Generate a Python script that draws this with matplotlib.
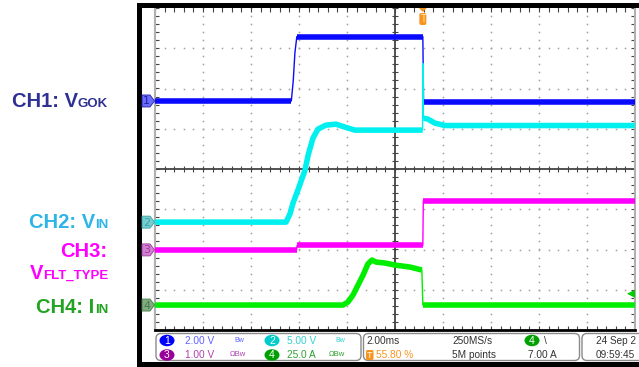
import numpy as np
import matplotlib
matplotlib.use("Agg")
import matplotlib.pyplot as plt
from matplotlib.patches import Rectangle, FancyBboxPatch, Ellipse, Polygon
from matplotlib.transforms import Affine2D

# --- Scope settings ---
T_DIV = 2.0            # ms/div
TRIG_POS = 0.558       # trigger position on screen
T_LEFT = -10 * TRIG_POS * T_DIV
T_RIGHT = T_LEFT + 10 * T_DIV
CH_SCALE = [2.0, 5.0, 1.0, 25.0]        # V/div, V/div, V/div, A/div
CH_OFFSET = [1.69, -1.32, -2.01, -3.38]  # ground markers (div)
TRIG_LEVEL = 7.0                         # A on CH4

# --- Traces (time in ms, values in V or A) ---
t1 = [-11.16, -5.48, -5.40, -5.33, -5.25, 0.0, 0.03, 8.84]
v1 = [0.0, 0.0, 1.0, 2.4, 3.2, 3.2, -0.05, -0.05]

t2 = [-11.16, -5.70, -5.54, -5.41, -5.16, -4.91, -4.78, -4.58, -4.37, -4.04,
      -3.62, -3.24, -2.83, -0.01, 0.0, 0.02, 0.04, 0.21, 0.50, 0.92, 8.84]
v2 = [0.0, 0.0, 0.99, 2.36, 4.35, 6.46, 8.32, 10.43, 11.55, 12.05,
      12.17, 11.80, 11.43, 11.43, 19.7, 12.9, 12.9, 12.8, 12.3, 12.0, 12.0]

t3 = [-11.16, -5.26, -5.24, 0.0, 0.02, 8.84]
v3 = [0.0, 0.0, 0.11, 0.11, 1.22, 1.22]

t4 = [-11.16, -3.33, -3.12, -2.91, -2.70, -2.49, -2.29, -2.12, -1.95, -1.58,
      -1.16, -0.54, -0.04, 0.0, 8.84]
i4 = [0.0, 0.0, 1.86, 6.21, 12.42, 18.63, 25.47, 27.95, 26.71, 26.09,
      24.84, 23.6, 21.74, 0.0, 0.0]

TRACE_COLORS = ['#0a0aff', '#00f0f0', '#ff00ff', '#00ee00']
LABEL_COLORS = ['#2e3192', '#2cb5e6', '#ff00ff', '#22a322']

W, H = 639, 367
fig = plt.figure(figsize=(W / 100, H / 100), dpi=100)
# pixel coordinates, origin at top-left
PX = Affine2D().scale(1 / 100, -1 / 100).translate(0, H / 100) + fig.dpi_scale_trans

# plot area: x 155..635, y 8..330
AX_L, AX_R, AX_T, AX_B = 155, 635, 8, 330
ax = fig.add_axes([AX_L / W, 1 - AX_B / H, (AX_R - AX_L) / W, (AX_B - AX_T) / H])
ax.set_xlim(T_LEFT, T_RIGHT)
ax.set_ylim(-4, 4)
ax.set_xticks([])
ax.set_yticks([])
for side in ['left', 'right']:
    ax.spines[side].set_color('#b0b0b0')
    ax.spines[side].set_linewidth(1.5)
ax.spines['top'].set_visible(False)
ax.spines['bottom'].set_color('black')
ax.spines['bottom'].set_linewidth(2)

# --- Graticule ---
grid_x = T_LEFT + T_DIV * np.arange(1, 10)
grid_y = np.arange(-3, 4)
x_center = T_LEFT + 5 * T_DIV
fine_y = np.arange(-4, 4.001, 0.2)
fine_x = T_LEFT + np.arange(0, 50.01) * T_DIV / 5
dot = dict(ls='none', marker='s', ms=1.1, mew=0, color='#a0a0a0', zorder=1)
for gx in grid_x:
    if abs(gx - x_center) > 1e-6:
        ax.plot(np.full_like(fine_y, gx), fine_y, **dot)
for gy in grid_y:
    if gy != 0:
        ax.plot(fine_x, np.full_like(fine_x, gy), **dot)
ax.axhline(0, color='#333333', lw=1.2, zorder=1)
ax.axvline(x_center, color='#333333', lw=1.2, zorder=1)
tick = dict(ls='none', color='#444444', mew=0.8, zorder=1)
ax.plot(fine_x, np.zeros_like(fine_x), marker='|', ms=5, **tick)
ax.plot(np.full_like(fine_y, x_center), fine_y, marker='_', ms=5, **tick)
# edge ticks (half clipped by the axes)
ax.plot(fine_x, np.full_like(fine_x, 4), marker='|', ms=6, **tick)
ax.plot(fine_x, np.full_like(fine_x, -4), marker='|', ms=6, **tick)
ax.plot(np.full_like(fine_y, T_LEFT), fine_y, marker='_', ms=6, **tick)
ax.plot(np.full_like(fine_y, T_RIGHT), fine_y, marker='_', ms=6, **tick)


def draw_trace(t, v, ch, z):
    t = np.asarray(t, float)
    y = CH_OFFSET[ch] + np.asarray(v, float) / CH_SCALE[ch]
    color = TRACE_COLORS[ch]
    ax.plot(t, y, color=color, lw=1.0, zorder=z)
    pts = ax.transData.transform(np.column_stack([t, y]))
    d = np.diff(pts, axis=0)
    flat = np.abs(d[:, 1]) <= 6 * np.abs(d[:, 0])
    i, n = 0, len(flat)
    while i < n:
        if flat[i]:
            j = i
            while j < n and flat[j]:
                j += 1
            ax.plot(t[i:j + 1], y[i:j + 1], color=color, lw=4,
                    solid_capstyle='butt', solid_joinstyle='round', zorder=z)
            i = j
        else:
            i += 1


draw_trace(t1, v1, 0, 3)
draw_trace(t2, v2, 1, 4)
draw_trace(t3, v3, 2, 5)
draw_trace(t4, i4, 3, 6)


def data_to_px(t, y):
    x = AX_L + (t - T_LEFT) / (T_RIGHT - T_LEFT) * (AX_R - AX_L)
    yp = AX_B - (y + 4) / 8 * (AX_B - AX_T)
    return x, yp


# --- Frame ---
for r in [(137, 3, 502, 5), (137, 3, 5, 364), (137, 362, 502, 5)]:
    fig.patches.append(Rectangle(r[:2], r[2], r[3], fc='black', ec='none', transform=PX))

# --- Channel ground markers ---
marker_fill = ['#6b6bff', '#74d0d0', '#d27fd2', '#80ad80']
marker_text = ['#2020a0', '#3f9f9f', '#9a3d9a', '#4a7a4a']
for ch in range(4):
    _, yp = data_to_px(0, CH_OFFSET[ch])
    poly = [(142, yp - 6), (150, yp - 6), (154.5, yp), (150, yp + 6), (142, yp + 6)]
    fig.patches.append(Polygon(poly, closed=True, fc=marker_fill[ch],
                               ec=marker_text[ch], lw=0.6, transform=PX))
    fig.text(146.5, yp + 0.5, str(ch + 1), color=marker_text[ch], fontsize=8,
             ha='center', va='center', transform=PX)

# --- Trigger markers ---
tx, _ = data_to_px(0.0, 0)
fig.patches.append(Polygon([(tx - 4, 8), (tx + 4, 8), (tx, 12)], closed=True,
                           fc='#f7941d', ec='none', transform=PX))
fig.patches.append(FancyBboxPatch((tx - 3.5, 13), 7, 12,
                                  boxstyle='round,pad=0,rounding_size=2',
                                  fc='#f7941d', ec='none', transform=PX))
fig.text(tx, 19.5, 'T', color='#ffe0b0', fontsize=7, ha='center', va='center', transform=PX)
_, ty = data_to_px(0, CH_OFFSET[3] + TRIG_LEVEL / CH_SCALE[3])
fig.patches.append(Polygon([(627, ty), (635, ty - 4), (635, ty + 4)], closed=True,
                           fc='#00cc00', ec='none', transform=PX))

# --- Left labels ---
renderer = fig.canvas.get_renderer()


def label(x_right, y_base, main, sub, color):
    kw = dict(color=color, fontweight='bold', family='Liberation Sans',
              va='baseline', transform=PX)
    if sub:
        s = fig.text(x_right, y_base, sub, ha='right', fontsize=9.5, **kw)
        x_right -= s.get_window_extent(renderer).width
    fig.text(x_right, y_base, main, ha='right', fontsize=14.5, **kw)


label(108, 107, 'CH1: V', 'GOK', LABEL_COLORS[0])
label(108, 228, 'CH2: V', 'IN', LABEL_COLORS[1])
label(107, 257, 'CH3:', '', LABEL_COLORS[2])
label(108, 279, 'V', 'FLT_TYPE', LABEL_COLORS[2])
label(108, 313, 'CH4: I', 'IN', LABEL_COLORS[3])

# --- Status bar ---
SB_FONT = 'Liberation Sans'
for x0, w in [(156, 205), (363.5, 216), (582, 70)]:
    fig.patches.append(FancyBboxPatch((x0, 333.5), w, 27,
                                      boxstyle='round,pad=0,rounding_size=5',
                                      fc='white', ec='#8a8a8a', lw=1, transform=PX))

row1, row2 = 340.5, 355
badges = [(167, row1, '1', '#0000ff'), (272, row1, '2', '#00cccc'),
          (167, row2, '3', '#990099'), (272, row2, '4', '#00a000'),
          (532, row1, '4', '#00a000')]
for bx, by, s, c in badges:
    fig.patches.append(Ellipse((bx, by), 15, 11.5, fc=c, ec='none', transform=PX))
    fig.text(bx, by + 0.5, s, color='white', fontsize=7.5, ha='center', va='center',
             family=SB_FONT, transform=PX)

status = [(185, row1, '2.00 V', '#6060ff', 7.3), (234, row1, 'Bw', '#6060ff', 5),
          (287, row1, '5.00 V', '#33d0d0', 7.3), (335, row1, 'Bw', '#33d0d0', 5),
          (185, row2, '1.00 V', '#b040b0', 7.3), (230, row2, 'ΩBw', '#b040b0', 5.5),
          (287, row2, '25.0 A', '#30a030', 7.3), (329, row2, 'ΩBw', '#30a030', 5.5),
          (366, row1, '2.00ms', '#333333', 7.3), (376, row2, '55.80 %', '#f7941d', 7.3),
          (452, row1, '250MS/s', '#333333', 7.3), (452, row2, '5M points', '#333333', 7.3),
          (544, row1, '\\', '#333333', 7.3), (528, row2, '7.00 A', '#333333', 7.3),
          (596, row1, '24 Sep 2', '#333333', 7.2), (596, row2, '09:59:45', '#333333', 7.2)]
for sx, sy, s, c, fs in status:
    fig.text(sx, sy, s, color=c, fontsize=fs, ha='left', va='center',
             family=SB_FONT, transform=PX)
fig.patches.append(FancyBboxPatch((366, 350), 7.5, 10, boxstyle='round,pad=0,rounding_size=1.5',
                                  fc='#f7941d', ec='none', transform=PX))
fig.text(369.8, 355.5, 'T', color='white', fontsize=6.5, ha='center', va='center',
         family=SB_FONT, transform=PX)

fig.savefig('out.png', dpi=100, facecolor='white')
